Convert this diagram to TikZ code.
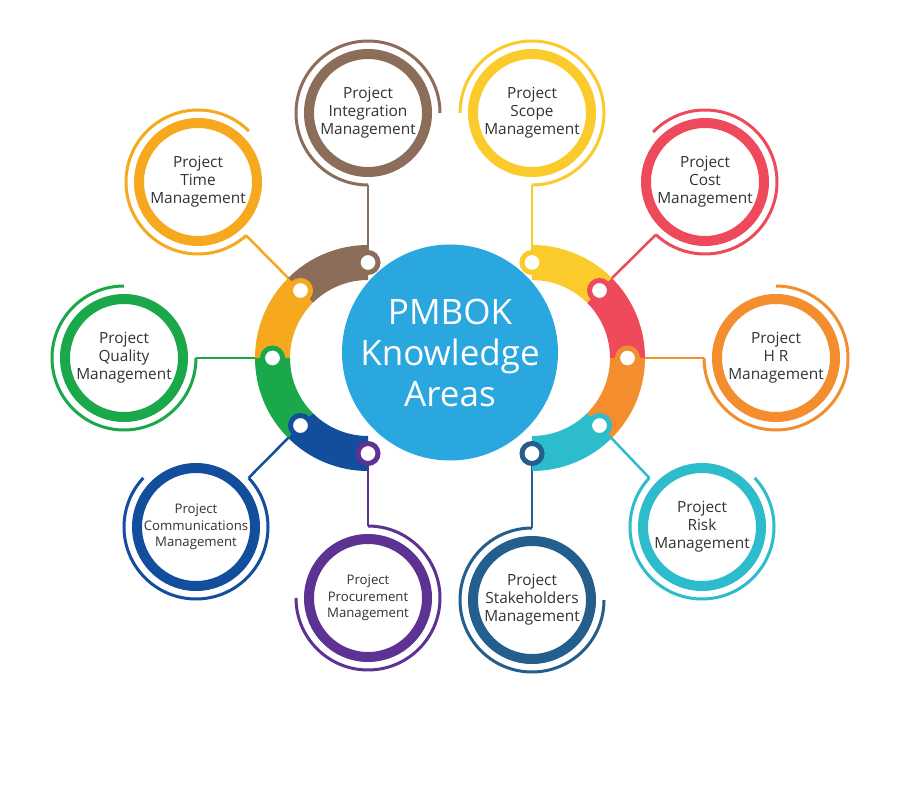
\documentclass[tikz,border=0pt]{standalone}
\usepackage{fontspec}
\setmainfont{Open Sans}
\usetikzlibrary{calc}
\pgfdeclarelayer{back}
\pgfdeclarelayer{bg}
\pgfsetlayers{back,bg,main}
\definecolor{cInt}{HTML}{8C6D5A}
\definecolor{cTime}{HTML}{F6A91E}
\definecolor{cQual}{HTML}{1BA84A}
\definecolor{cComm}{HTML}{124E9C}
\definecolor{cProc}{HTML}{5D3293}
\definecolor{cStak}{HTML}{235E8C}
\definecolor{cRisk}{HTML}{2DBCCB}
\definecolor{cHR}{HTML}{F48D2D}
\definecolor{cCost}{HTML}{EE4A5C}
\definecolor{cScope}{HTML}{FBCB2C}
\definecolor{cCenter}{HTML}{2AA7DF}
\definecolor{txtgray}{HTML}{333333}
\newcommand\ringseg[4]{\fill[#4] ([shift={(#2:113)}]#1) arc[start angle=#2,end angle=#3,radius=113] -- ([shift={(#3:78)}]#1) arc[start angle=#3,end angle=#2,radius=78] -- cycle;}
\begin{document}
\begin{tikzpicture}[x=1pt,y=1pt,
  knode/.style={circle, draw=#1, line width=10pt, fill=white, minimum size=118pt, inner sep=0pt, align=center, text=txtgray, font=\fontsize{15.4}{18}\selectfont},
  smalltext/.style={font=\fontsize{13.2}{16.5}\selectfont},
  thinarc/.style={draw=#1, line width=3pt},
  conn/.style={draw=#1, line width=2.5pt},
  dotnode/.style={circle, draw=#1, fill=white, line width=5pt, minimum size=20pt, inner sep=0pt},
  hub/.style={circle, fill=cCenter, minimum size=216pt, inner sep=0pt, text=white, align=center, font=\fontsize{35}{41}\selectfont}
]
\begin{pgfonlayer}{back}
\fill[white] (0,0) rectangle (900,-786);
\end{pgfonlayer}
\useasboundingbox (0,0) rectangle (900,-786);

\coordinate (L) at (368,-358);
\coordinate (R) at (532,-358);

% ring segments
\ringseg{L}{90}{135}{cInt}
\ringseg{L}{135}{180}{cTime}
\ringseg{L}{180}{225}{cQual}
\ringseg{L}{225}{270}{cComm}
\ringseg{R}{90}{45}{cScope}
\ringseg{R}{45}{0}{cCost}
\ringseg{R}{0}{-45}{cHR}
\ringseg{R}{-45}{-90}{cRisk}

% hub
\node[hub] (pm) at (450,-352.5) {PMBOK\\Knowledge\\Areas};

% dots
\node[dotnode=cInt]   (dInt)   at ([shift={(90:95.5)}]L) {};
\node[dotnode=cTime]  (dTime)  at ([shift={(135:95.5)}]L) {};
\node[dotnode=cQual]  (dQual)  at ([shift={(180:95.5)}]L) {};
\node[dotnode=cComm]  (dComm)  at ([shift={(225:95.5)}]L) {};
\node[dotnode=cProc]  (dProc)  at ([shift={(270:95.5)}]L) {};
\node[dotnode=cScope] (dScope) at ([shift={(90:95.5)}]R) {};
\node[dotnode=cCost]  (dCost)  at ([shift={(45:95.5)}]R) {};
\node[dotnode=cHR]    (dHR)    at ([shift={(0:95.5)}]R) {};
\node[dotnode=cRisk]  (dRisk)  at ([shift={(-45:95.5)}]R) {};
\node[dotnode=cStak]  (dStak)  at ([shift={(-90:95.5)}]R) {};

% knowledge area nodes
\node[knode=cInt]   (int)   at (368,-113) {Project\\Integration\\Management};
\node[knode=cScope] (scope) at (532,-113) {Project\\Scope\\Management};
\node[knode=cTime]  (time)  at (198,-182) {Project\\Time\\Management};
\node[knode=cCost]  (cost)  at (705,-182) {Project\\Cost\\Management};
\node[knode=cQual]  (qual)  at (124,-358) {Project\\Quality\\Management};
\node[knode=cHR]    (hr)    at (776,-358) {Project\\H R\\Management};
\node[knode=cComm, smalltext] (comm) at (196,-527) {Project\\Communications\\Management};
\node[knode=cRisk]  (risk)  at (702,-527) {Project\\Risk\\Management};
\node[knode=cProc, smalltext] (proc) at (368,-598) {Project\\Procurement\\Management};
\node[knode=cStak]  (stak)  at (532,-600) {Project\\Stakeholders\\Management};

% thin outer arcs
\draw[thinarc=cInt]   ([shift={(0:72)}]int.center) arc[start angle=0,end angle=270,radius=72] coordinate (intE);
\draw[thinarc=cScope] ([shift={(180:72)}]scope.center) arc[start angle=180,end angle=-90,radius=72] coordinate (scopeE);
\draw[thinarc=cTime]  ([shift={(45:72)}]time.center) arc[start angle=45,end angle=312,radius=72] coordinate (timeE);
\draw[thinarc=cCost]  ([shift={(136:72)}]cost.center) arc[start angle=136,end angle=-133,radius=72] coordinate (costE);
\draw[thinarc=cQual]  ([shift={(90:72)}]qual.center) arc[start angle=90,end angle=360,radius=72] coordinate (qualE);
\draw[thinarc=cHR]    ([shift={(90:72)}]hr.center) arc[start angle=90,end angle=-180,radius=72] coordinate (hrE);
\draw[thinarc=cComm]  ([shift={(137:72)}]comm.center) arc[start angle=137,end angle=403,radius=72] coordinate (commE);
\draw[thinarc=cRisk]  ([shift={(43:72)}]risk.center) arc[start angle=43,end angle=-223,radius=72] coordinate (riskE);
\draw[thinarc=cProc]  ([shift={(180:72)}]proc.center) arc[start angle=180,end angle=450,radius=72] coordinate (procE);
\draw[thinarc=cStak]  ([shift={(0:72)}]stak.center) arc[start angle=0,end angle=-270,radius=72] coordinate (stakE);

% connectors
\begin{pgfonlayer}{bg}
\draw[conn=cInt]   (intE) -- (dInt.center);
\draw[conn=cScope] (scopeE) -- (dScope.center);
\draw[conn=cTime]  (timeE) -- (dTime.center);
\draw[conn=cCost]  (costE) -- (dCost.center);
\draw[conn=cQual]  (qualE) -- (dQual.center);
\draw[conn=cHR]    (hrE) -- (dHR.center);
\draw[conn=cComm]  (commE) -- (dComm.center);
\draw[conn=cRisk]  (riskE) -- (dRisk.center);
\draw[conn=cProc]  (procE) -- (dProc.center);
\draw[conn=cStak]  (stakE) -- (dStak.center);
\end{pgfonlayer}
\end{tikzpicture}
\end{document}
